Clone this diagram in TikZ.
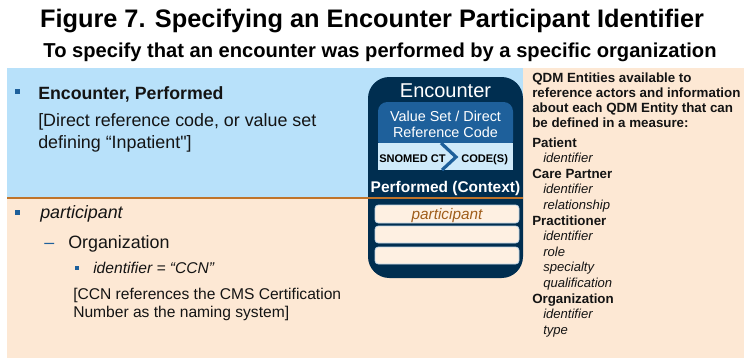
\documentclass[tikz,border=0pt]{standalone}
\usepackage{fontspec}
\setmainfont{Liberation Sans}
\newfontfamily\qfont{Liberation Sans}
\newcommand\fsz[1]{\fontsize{#1}{#1}\selectfont}
\definecolor{peach}{RGB}{253,232,212}
\definecolor{skyp}{RGB}{184,225,250}
\definecolor{navy}{RGB}{0,46,80}
\definecolor{midblue}{RGB}{30,96,155}
\definecolor{bandblue}{RGB}{207,234,250}
\definecolor{orangeln}{RGB}{192,116,42}
\definecolor{brownt}{RGB}{160,94,28}
\definecolor{slotedge}{RGB}{190,212,230}
\definecolor{slotfill}{RGB}{254,240,226}
\definecolor{txtc}{RGB}{20,20,20}
\begin{document}
\begin{tikzpicture}[x=0.75pt,y=-0.75pt,
  lbl/.style={inner sep=0pt, anchor=base west, text=txtc},
  ctr/.style={inner sep=0pt, anchor=base},
  rb/.style={lbl, font=\fsz{10pt}\bfseries},
  ri/.style={lbl, font=\fsz{9.8pt}\itshape},
  bullet/.style={fill=midblue, draw=none},
  slot/.style={draw=slotedge, line width=0.6pt, fill=slotfill, rounded corners=2.5pt}]
\useasboundingbox (0,0) rectangle (744,358);
\fill[white] (0,0) rectangle (744,358);
% backgrounds
\fill[peach] (7,68) rectangle (744,358);
\fill[skyp] (7,68) rectangle (523,197);
% titles
\node[ctr] (title) at (372,27) {\fsz{19pt}\bfseries Figure 7. Specifying an Encounter Participant Identifier};
\node[ctr] (subtitle) at (380,57) {\fsz{15.1pt}\bfseries To specify that an encounter was performed by a specific organization};
% encounter box
\fill[navy, rounded corners=16pt] (368,77) rectangle (523,278);
\node[ctr, text=white] (enc) at (445.5,97) {\fsz{15pt}Encounter};
\fill[midblue, rounded corners=7pt] (378,102) rectangle (513,150);
\fill[bandblue] (378,143) rectangle (513,170);
\node[ctr, text=white] (vs1) at (445.5,121) {\fsz{10.8pt}Value Set / Direct};
\node[ctr, text=white] (vs2) at (445.5,137) {\fsz{10.8pt}Reference Code};
\node[lbl, text=black] (snomed) at (379,162) {\fsz{8.3pt}\bfseries SNOMED CT};
\node[lbl, text=black] (codes) at (461,162) {\fsz{8.3pt}\bfseries CODE(S)};
\coordinate (chA) at (441,143);
\coordinate (chB) at (456,157);
\coordinate (chC) at (442,170);
\draw[midblue, line width=2.4pt] (chA) -- (chB) -- (chC);
\node[ctr, text=white] (perf) at (445.5,192) {\fsz{11.6pt}\bfseries Performed (Context)};
% orange line
\draw[orangeln, line width=1.5pt] (7,198) -- (523,198);
% slots
\draw[slot] (375,205) rectangle (519,223);
\draw[slot] (375,226) rectangle (519,243);
\draw[slot] (375,247) rectangle (519,264);
\node[ctr, text=brownt] (slotp) at (447,219) {\fsz{11.5pt}\itshape participant};
% left upper text
\fill[bullet] (14.5,89) rectangle (19.5,94);
\node[lbl] (ep) at (38,99) {\fsz{13.3pt}\bfseries Encounter, Performed};
\node[lbl] (dr1) at (38,126) {\fsz{13.4pt}[Direct reference code, or value set};
\node[lbl] (dr2) at (38,148) {\fsz{13.4pt}defining “Inpatient{\qfont"}]};
% left lower text
\fill[bullet] (14.5,210) rectangle (19.5,215);
\node[lbl] (part) at (40,218) {\fsz{13.4pt}\itshape participant};
\node[lbl, text=midblue] (dash) at (44,248) {\fsz{13.4pt}–};
\node[lbl] (org) at (68,248) {\fsz{13.4pt}Organization};
\fill[bullet] (75,266) rectangle (79,270);
\node[lbl] (ident) at (93,273) {\fsz{11.7pt}\itshape identifier = “CCN”};
\node[lbl] (ccn1) at (73,299) {\fsz{11.7pt}[CCN references the CMS Certification};
\node[lbl] (ccn2) at (73,317) {\fsz{11.7pt}Number as the naming system]};
% right column
\node[rb] (q1) at (532,82) {QDM Entities available to};
\node[rb] (q2) at (532,97) {reference actors and information};
\node[rb] (q3) at (532,112) {about each QDM Entity that can};
\node[rb] (q4) at (532,127) {be defined in a measure:};
\node[rb] (r1) at (532,147) {Patient};
\node[ri] (r2) at (543,162.6) {identifier};
\node[rb] (r3) at (532,178.2) {Care Partner};
\node[ri] (r4) at (543,193.8) {identifier};
\node[ri] (r5) at (543,209.4) {relationship};
\node[rb] (r6) at (532,225) {Practitioner};
\node[ri] (r7) at (543,240.6) {identifier};
\node[ri] (r8) at (543,256.2) {role};
\node[ri] (r9) at (543,271.8) {specialty};
\node[ri] (r10) at (543,287.4) {qualification};
\node[rb] (r11) at (532,303) {Organization};
\node[ri] (r12) at (543,318.6) {identifier};
\node[ri] (r13) at (543,334.2) {type};
\end{tikzpicture}
\end{document}
